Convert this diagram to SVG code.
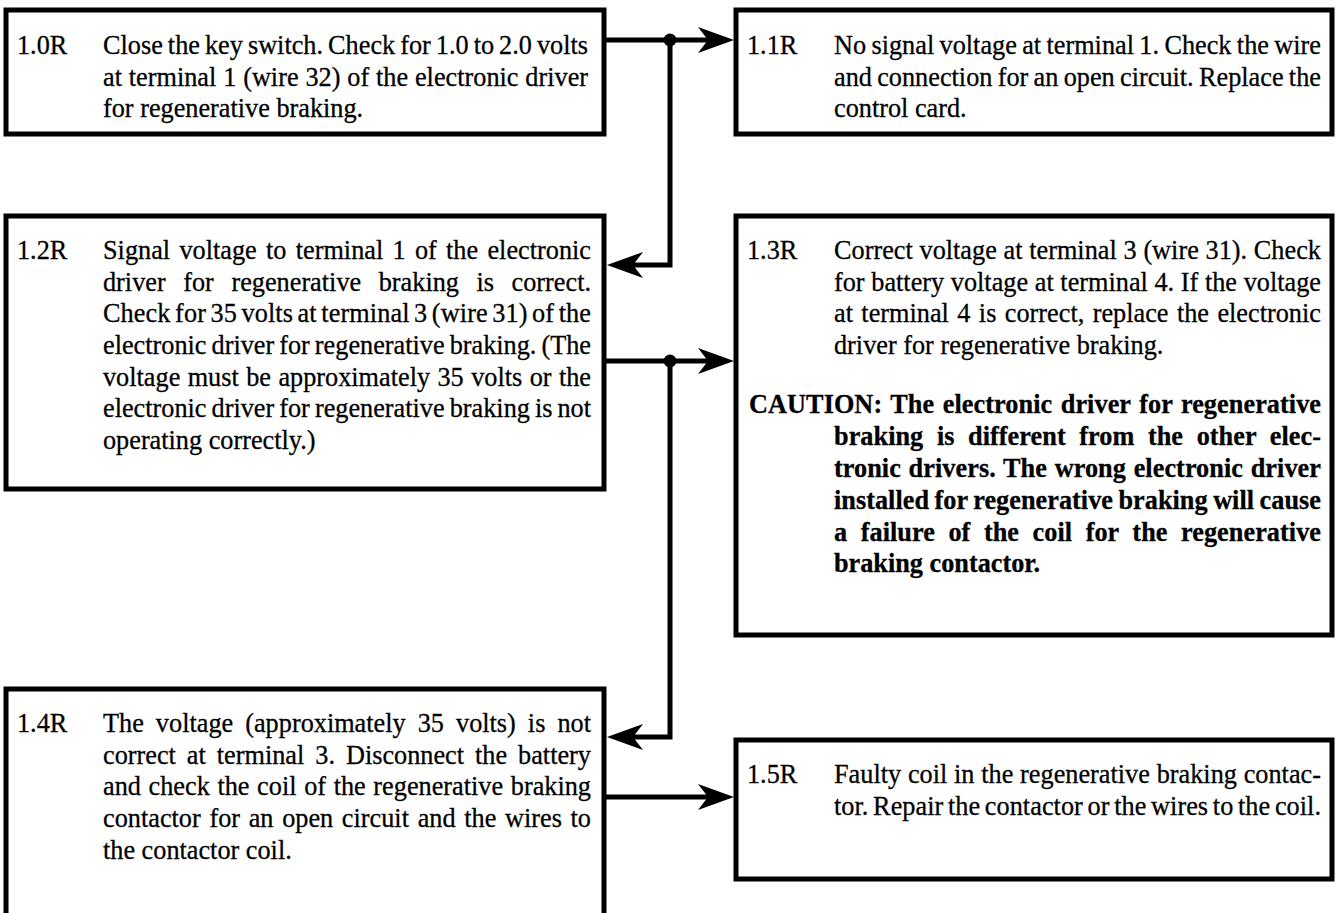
<svg xmlns="http://www.w3.org/2000/svg" width="1337" height="913" viewBox="0 0 1337 913">
  <style>
    .box { fill: #ffffff; stroke: #000000; stroke-width: 5; }
    .t { font-family: "Liberation Serif", "Times New Roman", serif; font-size: 27.5px; fill: #000000; stroke: #000000; stroke-width: 0.3; }
    .b { font-weight: bold; }
    .wire { fill: none; stroke: #000000; stroke-width: 5; stroke-linejoin: miter; }
    .dot { fill: #000000; }
  </style>
  <defs>
    <marker id="arrow" viewBox="0 0 36 28" refX="24" refY="14" markerWidth="36" markerHeight="28" orient="auto" markerUnits="userSpaceOnUse">
      <path d="M36,14 L0,1 L10,14 L0,27 Z" fill="#000000"/>
    </marker>
  </defs>

  <rect width="1337" height="913" fill="#ffffff"/>

  <!-- connectors -->
  <g id="connectors">
    <path class="wire" d="M606,40 H722" marker-end="url(#arrow)"/>
    <path class="wire" d="M670,40 V265 H619" marker-end="url(#arrow)"/>
    <circle class="dot" cx="670" cy="40" r="6.5"/>
    <path class="wire" d="M606,361 H722" marker-end="url(#arrow)"/>
    <path class="wire" d="M670,361 V737 H619" marker-end="url(#arrow)"/>
    <circle class="dot" cx="670" cy="361" r="6.5"/>
    <path class="wire" d="M606,797 H722" marker-end="url(#arrow)"/>
  </g>

  <!-- 1.0R -->
  <g id="step-1-0R">
    <rect class="box" x="6" y="10" width="598" height="124"/>
    <g transform="scale(0.955,1)">
      <text class="t" x="17.8" y="54">1.0R</text>
      <text class="t" x="107.85" y="54" word-spacing="-1.62" textLength="507.9" lengthAdjust="spacing">Close the key switch. Check for 1.0 to 2.0 volts</text>
      <text class="t" x="107.85" y="85.7" word-spacing="0.29" textLength="507.9" lengthAdjust="spacing">at terminal 1 (wire 32) of the electronic driver</text>
      <text class="t" x="107.85" y="117.4">for regenerative braking.</text>
    </g>
  </g>

  <!-- 1.1R -->
  <g id="step-1-1R">
    <rect class="box" x="736" y="10" width="596" height="124"/>
    <g transform="scale(0.955,1)">
      <text class="t" x="782.2" y="54">1.1R</text>
      <text class="t" x="873.3" y="54" word-spacing="-1.28" textLength="509.9" lengthAdjust="spacing">No signal voltage at terminal 1. Check the wire</text>
      <text class="t" x="873.3" y="85.7" word-spacing="-1.34" textLength="509.9" lengthAdjust="spacing">and connection for an open circuit. Replace the</text>
      <text class="t" x="873.3" y="117.4">control card.</text>
    </g>
  </g>

  <!-- 1.2R -->
  <g id="step-1-2R">
    <rect class="box" x="6" y="216" width="598" height="273"/>
    <g transform="scale(0.955,1)">
      <text class="t" x="17.8" y="259">1.2R</text>
      <text class="t" x="107.85" y="259" word-spacing="2.84" textLength="511" lengthAdjust="spacing">Signal voltage to terminal 1 of the electronic</text>
      <text class="t" x="107.85" y="290.7" word-spacing="11.48" textLength="511" lengthAdjust="spacing">driver for regenerative braking is correct.</text>
      <text class="t" x="107.85" y="322.4" word-spacing="-2.22" textLength="511" lengthAdjust="spacing">Check for 35 volts at terminal 3 (wire 31) of the</text>
      <text class="t" x="107.85" y="354.1" word-spacing="-1.66" textLength="511" lengthAdjust="spacing">electronic driver for regenerative braking. (The</text>
      <text class="t" x="107.85" y="385.8" word-spacing="0.87" textLength="511" lengthAdjust="spacing">voltage must be approximately 35 volts or the</text>
      <text class="t" x="107.85" y="417.5" word-spacing="-1.63" textLength="511" lengthAdjust="spacing">electronic driver for regenerative braking is not</text>
      <text class="t" x="107.85" y="449.2">operating correctly.)</text>
    </g>
  </g>

  <!-- 1.3R -->
  <g id="step-1-3R">
    <rect class="box" x="736" y="216" width="596" height="419"/>
    <g transform="scale(0.955,1)">
      <text class="t" x="782.2" y="259">1.3R</text>
      <text class="t" x="873.3" y="259" word-spacing="0.19" textLength="509.9" lengthAdjust="spacing">Correct voltage at terminal 3 (wire 31). Check</text>
      <text class="t" x="873.3" y="290.7" word-spacing="0.06" textLength="509.9" lengthAdjust="spacing">for battery voltage at terminal 4. If the voltage</text>
      <text class="t" x="873.3" y="322.4" word-spacing="1.93" textLength="509.9" lengthAdjust="spacing">at terminal 4 is correct, replace the electronic</text>
      <text class="t" x="873.3" y="354.1">driver for regenerative braking.</text>
      <text class="t b" x="784.3" y="413.5" word-spacing="2.03" textLength="598.95" lengthAdjust="spacing">CAUTION: The electronic driver for regenerative</text>
      <text class="t b" x="873.3" y="445.3" word-spacing="7.33" textLength="509.9" lengthAdjust="spacing">braking is different from the other elec-</text>
      <text class="t b" x="873.3" y="477.1" word-spacing="1.16" textLength="509.9" lengthAdjust="spacing">tronic drivers. The wrong electronic driver</text>
      <text class="t b" x="873.3" y="508.9" word-spacing="-1.14" textLength="509.9" lengthAdjust="spacing">installed for regenerative braking will cause</text>
      <text class="t b" x="873.3" y="540.7" word-spacing="7.27" textLength="509.9" lengthAdjust="spacing">a failure of the coil for the regenerative</text>
      <text class="t b" x="873.3" y="572.5">braking contactor.</text>
    </g>
  </g>

  <!-- 1.4R: box runs off the lower edge -->
  <g id="step-1-4R">
    <path class="box" d="M6,916 V689 H604 V916"/>
    <g transform="scale(0.955,1)">
      <text class="t" x="17.8" y="732">1.4R</text>
      <text class="t" x="107.85" y="732" word-spacing="5.73" textLength="511" lengthAdjust="spacing">The voltage (approximately 35 volts) is not</text>
      <text class="t" x="107.85" y="763.7" word-spacing="4.6" textLength="511" lengthAdjust="spacing">correct at terminal 3. Disconnect the battery</text>
      <text class="t" x="107.85" y="795.4" word-spacing="1.1" textLength="511" lengthAdjust="spacing">and check the coil of the regenerative braking</text>
      <text class="t" x="107.85" y="827.1" word-spacing="2.2" textLength="511" lengthAdjust="spacing">contactor for an open circuit and the wires to</text>
      <text class="t" x="107.85" y="858.8">the contactor coil.</text>
    </g>
  </g>

  <!-- 1.5R -->
  <g id="step-1-5R">
    <rect class="box" x="736" y="740" width="596" height="139"/>
    <g transform="scale(0.955,1)">
      <text class="t" x="782.2" y="783">1.5R</text>
      <text class="t" x="873.3" y="783" word-spacing="0.2" textLength="509.9" lengthAdjust="spacing">Faulty coil in the regenerative braking contac-</text>
      <text class="t" x="873.3" y="814.7" word-spacing="-1.99" textLength="509.9" lengthAdjust="spacing">tor. Repair the contactor or the wires to the coil.</text>
    </g>
  </g>
</svg>
